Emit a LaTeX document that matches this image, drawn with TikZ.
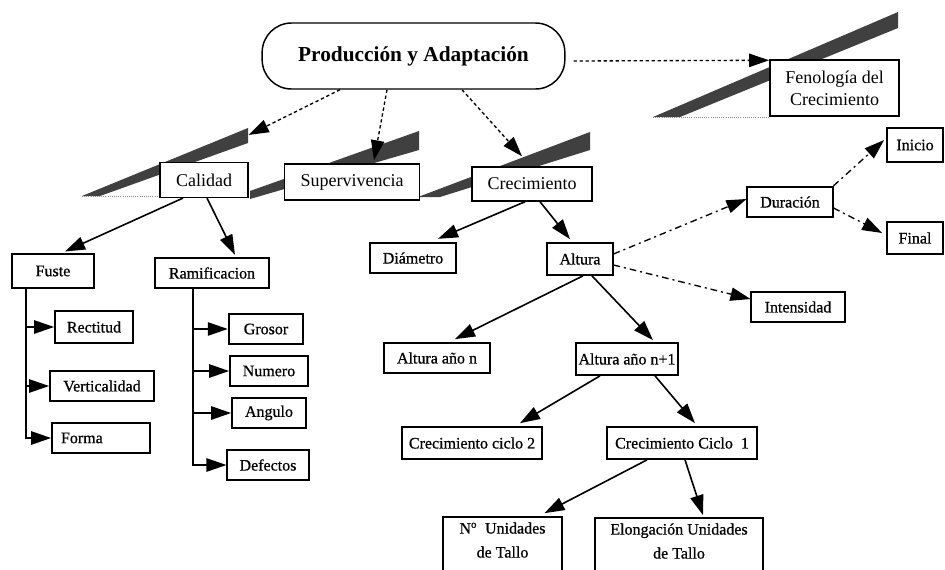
\documentclass[tikz,border=0pt]{standalone}
\usepackage{fontspec}
\setmainfont{Liberation Serif}
\newfontfamily\gruesa[FakeBold=0.7]{Liberation Serif}
\usetikzlibrary{arrows.meta,calc}

\tikzset{every picture/.style={line width=0.75pt}}
\tikzset{
	caja/.style 2 args={draw, fill=white, line width=1.3pt, minimum width=#1, minimum height=#2, inner sep=1pt, font=\gruesa\fontsize{12}{18}\selectfont},
	cajaalta/.style 2 args={caja={#1}{#2}, line width=1.1pt, font=\fontsize{13.5}{16.5}\selectfont},
	flecha/.style={line width=1.2pt, -{Triangle[length=15pt,width=10pt]}},
	punteo/.style={line width=1pt, dash pattern=on 2.5pt off 2pt, -{Triangle[length=15pt,width=10pt]}},
	rayado/.style={line width=1pt, dash pattern=on 5pt off 3pt on 1.5pt off 3pt, -{Triangle[length=15pt,width=10pt]}},
	sombra/.style={fill=black!75},
	base/.style={draw=black!45, densely dotted, line width=0.6pt}
}

\begin{document}
\begin{tikzpicture}[x=0.75pt,y=0.75pt,yscale=-1,xscale=1]
	\useasboundingbox (0,0) rectangle (945,569);

	%Shape: Shadows
	\fill[sombra] (82,196) -- (248,128) -- (248,143) -- (100,196) -- cycle ;
	\draw[base] (82,196) -- (160,196) ;
	\fill[sombra] (250,191) -- (419,131) -- (419,150) -- (250,199) -- cycle ;
	\fill[sombra] (418,197) -- (590,132) -- (590,150) -- (440,197) -- cycle ;
	\fill[sombra] (653,117) -- (898,12) -- (898,28) -- (680,117) -- cycle ;
	\draw[base] (653,117) -- (770,117) ;

	%Shape: Rounded Rect
	\node[cajaalta={227pt}{49.5pt}, rounded corners=22pt, font=\bfseries\fontsize{16}{19}\selectfont] (prod) at (413.5,56) {Producción y Adaptación};
	%Shape: Rectangle (first level)
	\node[cajaalta={97pt}{42pt}, align=center] (feno) at (834.5,88) {Fenología del\\Crecimiento};
	\node[cajaalta={66pt}{26pt}] (calidad) at (204,180) {Calidad};
	\node[cajaalta={101pt}{27pt}] (superv) at (352,182) {Supervivencia};
	\node[cajaalta={90pt}{25.5pt}] (crec) at (532,184) {Crecimiento};

	%Shape: Rectangle (Calidad)
	\node[caja={62pt}{25pt}] (fuste) at (53,271) {Fuste};
	\node[caja={85pt}{23pt}] (ramif) at (212,273) {Ramificacion};
	\node[caja={58.5pt}{24pt}] (rect) at (94,327) {Rectitud};
	\node[caja={78pt}{22.5pt}] (vert) at (102,386) {Verticalidad};
	\node[caja={73.5pt}{22.5pt}, text width=60pt, align=left] (forma) at (101,438) {Forma};
	\node[caja={56pt}{23pt}] (grosor) at (266,329) {Grosor};
	\node[caja={58.5pt}{23pt}] (numero) at (269,371) {Numero};
	\node[caja={55.5pt}{23pt}] (angulo) at (269,413) {Angulo};
	\node[caja={61pt}{22pt}] (defectos) at (268,465) {Defectos};

	%Shape: Rectangle (Crecimiento)
	\node[caja={65pt}{23pt}] (diam) at (413,258) {Diámetro};
	\node[caja={49pt}{24pt}] (altura) at (580,259) {Altura};
	\node[caja={80pt}{22.5pt}] (altn) at (437,358) {Altura año n};
	\node[caja={76pt}{24pt}] (altn1) at (627,359) {Altura año n+1};
	\node[caja={105pt}{24pt}] (ciclo2) at (472,443) {Crecimiento ciclo 2};
	\node[caja={112.5pt}{24pt}] (ciclo1) at (682,443) {Crecimiento Ciclo~~1};
	\node[caja={89pt}{52.5pt}, align=center] (nunid) at (502.5,552) {N\textsuperscript{o}~~Unidades\\de Tallo\\\mbox{}};
	\node[caja={126pt}{52.5pt}, align=center] (elong) at (679,553) {Elongación Unidades\\de Tallo\\\mbox{}};
	\node[caja={64pt}{23pt}] (duracion) at (790,202) {Duración};
	\node[caja={42pt}{25pt}] (inicio) at (915,145) {Inicio};
	\node[caja={42pt}{24pt}] (final) at (915,238) {Final};
	\node[caja={70pt}{23pt}] (intens) at (798,307) {Intensidad};

	%Dashed Lines
	\draw[punteo] ($(prod.south)+(-73.5,0)$) -- ($(calidad.north east)+(0,-27)$) ;
	\draw[punteo] ($(prod.south)+(-26.5,0)$) -- ($(superv.north)+(22,-3)$) ;
	\draw[punteo] ($(prod.south)+(48.5,0)$) -- ($(crec.north)+(-10,-10)$) ;
	\draw[punteo] ($(prod.east)+(8,5)$) -- ($(feno.north west)+(0,1)$) ;
	\draw[rayado] ($(altura.east)+(0,-5)$) -- ($(duracion.west)+(0,-3)$) ;
	\draw[rayado] ($(altura.east)+(0,6)$) -- ($(intens.west)+(0,-8)$) ;
	\draw[rayado] (duracion.north east) -- ($(inicio.west)+(-2,-5)$) ;
	\draw[rayado] ($(duracion.east)+(0,6)$) -- ($(final.west)+(-4,-5)$) ;

	%Straight Lines
	\draw[flecha] ($(calidad.south)+(-21,0)$) -- ($(fuste.north)+(12,-2)$) ;
	\draw[flecha] ($(calidad.south)+(3,0)$) -- ($(ramif.north)+(23,-2)$) ;
	\draw[flecha] ($(fuste.south)+(-27,0)$) |- (rect.west) ;
	\draw[flecha] ($(fuste.south)+(-27,0)$) |- (vert.west) ;
	\draw[flecha] ($(fuste.south)+(-27,0)$) |- (forma.west) ;
	\draw[flecha] ($(ramif.south)+(-19,0)$) |- (grosor.west) ;
	\draw[flecha] ($(ramif.south)+(-19,0)$) |- (numero.west) ;
	\draw[flecha] ($(ramif.south)+(-19,0)$) |- (angulo.west) ;
	\draw[flecha] ($(ramif.south)+(-19,0)$) |- (defectos.west) ;
	\draw[flecha] ($(crec.south)+(-7,0)$) -- ($(diam.north)+(25,-3)$) ;
	\draw[flecha] ($(crec.south)+(8,0)$) -- ($(altura.north)+(-10,-3)$) ;
	\draw[flecha] ($(altura.south)+(3,0)$) -- ($(altn.north)+(18,-3)$) ;
	\draw[flecha] ($(altura.south)+(12,0)$) -- ($(altn1.north)+(26,-2)$) ;
	\draw[flecha] ($(altn1.south)+(-27,0)$) -- ($(ciclo2.north)+(48,-3)$) ;
	\draw[flecha] ($(altn1.south)+(28,0)$) -- ($(ciclo1.north)+(13,-3)$) ;
	\draw[flecha] ($(ciclo1.south)+(-35,0)$) -- ($(nunid.north)+(42,-3)$) ;
	\draw[flecha] ($(ciclo1.south)+(3,0)$) -- ($(elong.north)+(24,-2)$) ;

\end{tikzpicture}
\end{document}
